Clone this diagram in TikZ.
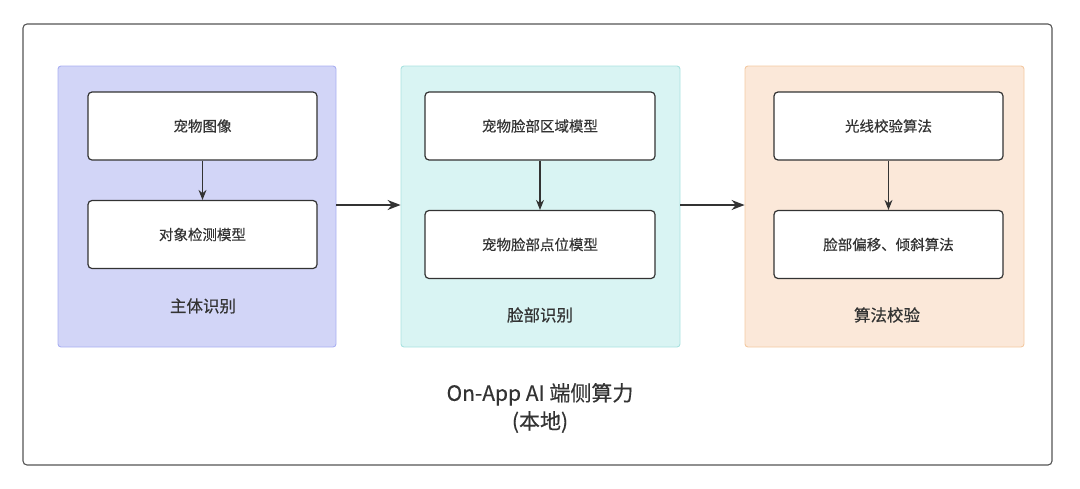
\documentclass[tikz,border=0pt]{standalone}
\usepackage{fontspec}
\setmainfont{Noto Sans CJK SC}[FakeBold=0.4]
\usetikzlibrary{arrows.meta}
\definecolor{frame}{HTML}{555555}
\definecolor{ink}{HTML}{333333}
\definecolor{blueF}{HTML}{D2D5F7}
\definecolor{blueD}{HTML}{AAB0F2}
\definecolor{tealF}{HTML}{D9F4F3}
\definecolor{tealD}{HTML}{A9E2E0}
\definecolor{orgF}{HTML}{FBE8D9}
\definecolor{orgD}{HTML}{F3C9A2}
\tikzset{
  grp/.style={rounded corners=3pt, line width=0.9pt, inner sep=0pt},
  innerbox/.style={draw=ink, fill=white, rounded corners=4pt, line width=1.2pt, minimum width=229pt, minimum height=68pt, font=\fontsize{14.5}{17}\selectfont, text=ink},
  grplabel/.style={font=\fontsize{16.5}{19}\selectfont, text=ink},
  arr/.style={draw=ink, line width=1.1pt, -{Stealth[length=10pt,width=8pt]}},
  harr/.style={draw=ink, line width=1.2pt, -{Stealth[length=13pt,width=10pt]}},
}
\begin{document}
\begin{tikzpicture}[x=1pt,y=-1pt]
\useasboundingbox (0,0) rectangle (1080,488);
\draw[draw=frame, line width=1.1pt, rounded corners=4pt] (23,24) rectangle (1052,465);
% groups
\node[grp, draw=blueD, fill=blueF, minimum width=278pt, minimum height=281pt] (g1) at (197,206.5) {};
\node[grp, draw=tealD, fill=tealF, minimum width=279pt, minimum height=281pt] (g2) at (540.5,206.5) {};
\node[grp, draw=orgD, fill=orgF, minimum width=279pt, minimum height=281pt] (g3) at (884.5,206.5) {};
% inner boxes
\node[innerbox] (a1) at (202.5,126) {宠物图像};
\node[innerbox] (a2) at (202.5,234.5) {对象检测模型};
\node[innerbox, minimum width=230pt] (b1) at (540,126) {宠物脸部区域模型};
\node[innerbox, minimum width=230pt] (b2) at (540,244.5) {宠物脸部点位模型};
\node[innerbox] (c1) at (888.5,126) {光线校验算法};
\node[innerbox] (c2) at (888.5,244.5) {脸部偏移、倾斜算法};
% group labels
\node[grplabel] (l1) at (203,306) {主体识别};
\node[grplabel] (l2) at (540,315) {脸部识别};
\node[grplabel] (l3) at (887,315) {算法校验};
% main label
\node[font=\fontsize{21}{28}\selectfont, text=ink, align=center] (main) at (540,408) {On-App AI 端侧算力\\(本地)};
% arrows
\draw[arr] (a1) -- (a2);
\draw[arr] (b1) -- (b2);
\draw[arr] (c1) -- (c2);
\draw[harr] (g1.east |- 0,205) -- (g2.west |- 0,205);
\draw[harr] (g2.east |- 0,205) -- (g3.west |- 0,205);
\end{tikzpicture}
\end{document}
